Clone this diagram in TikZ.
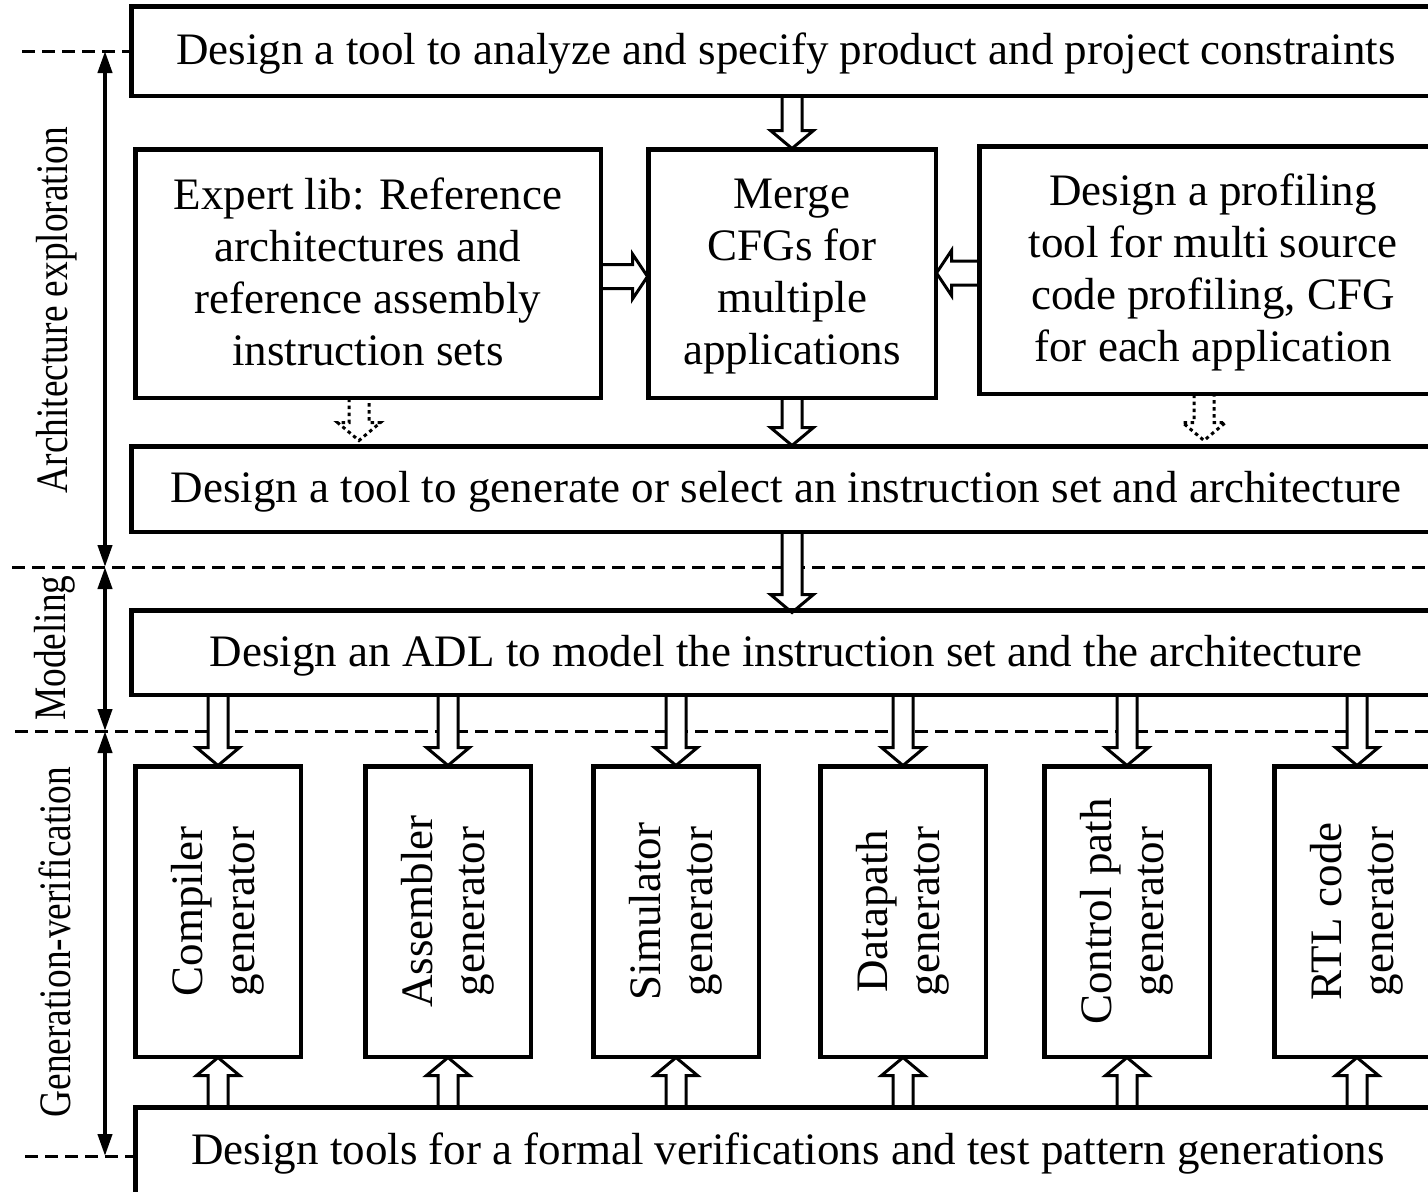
\documentclass[tikz,border=0pt]{standalone}
\usepackage{fontspec}
\setmainfont{Liberation Serif}
\usetikzlibrary{arrows.meta,calc}

\tikzset{
  txt/.style={font=\fontsize{45}{52}\selectfont},
  box/.style={draw, line width=3pt, inner sep=0pt, align=center, text depth=4pt, txt},
  hollow/.style={draw, fill=white, line width=3pt, line join=miter},
  hollowdotted/.style={draw, fill=white, line width=3pt, dash pattern=on 3.5pt off 3.5pt},
  sep/.style={line width=3pt, dash pattern=on 13pt off 7pt},
  span/.style={line width=4pt, {Triangle[length=22pt,width=14pt]}-{Triangle[length=22pt,width=14pt]}},
  phase/.style={rotate=90, inner sep=0pt, txt},
  genlabel/.style={rotate=90, align=center, inner sep=0pt, txt},
}

% hollow block arrow, vertical: from #2 to #3 (x taken from #2)
\newcommand\blockv[3][hollow]{%
  \path[#1] let \p1=#2, \p2=#3, \n1={sign(\y2-\y1)} in
    ({\x1-10pt},\y1) -- ({\x1-10pt},{\y2-(\n1)*18pt}) -- ({\x1-21.5pt},{\y2-(\n1)*18pt})
    -- (\x1,\y2) -- ({\x1+21.5pt},{\y2-(\n1)*18pt}) -- ({\x1+10pt},{\y2-(\n1)*18pt})
    -- ({\x1+10pt},\y1);
}
% hollow block arrow, horizontal: from #2 to #3 (y taken from #2)
\newcommand\blockh[3][hollow]{%
  \path[#1] let \p1=#2, \p2=#3, \n1={sign(\x2-\x1)} in
    (\x1,{\y1+12pt}) -- ({\x2-(\n1)*15pt},{\y1+12pt}) -- ({\x2-(\n1)*15pt},{\y1+22.5pt})
    -- (\x2,\y1) -- ({\x2-(\n1)*15pt},{\y1-22.5pt}) -- ({\x2-(\n1)*15pt},{\y1-12pt})
    -- (\x1,{\y1-12pt});
}

\begin{document}
\begin{tikzpicture}[x=1pt,y=-1pt]
\useasboundingbox (0,0) rectangle (1428,1192);
\clip (0,0) rectangle (1428,1192);

% phase boundaries
\coordinate (b0) at (105,51);
\coordinate (b1) at (105,567);
\coordinate (b2) at (105,731);
\coordinate (b3) at (105,1156);

\draw[sep] (22,51) -- (132,51);
\draw[sep] (12,567) -- (1428,567);
\draw[sep] (15,731) -- (1428,731);
\draw[sep] (25,1156) -- (136,1156);

\draw[span] (b0) -- (b1);
\draw[span] (b1) -- (b2);
\draw[span] (b2) -- (b3);

\node[phase] (ph1) at (57,310) {\scalebox{0.83}[1]{Architecture exploration}};
\node[phase] (ph2) at (55,648) {\scalebox{0.83}[1]{Modeling}};
\node[phase] (ph3) at (55,942) {\scalebox{0.83}[1]{Generation-verification}};

% boxes (positions only; drawn after the arrows so their borders stay on top)
\path
  (786,51)     node[box, minimum width=1308, minimum height=88]  (top)
      {Design a tool to analyze and specify product and project constraints}
  (368,273.5)  node[box, minimum width=464, minimum height=247]  (expert)
      {Expert lib: Reference\\architectures and\\reference assembly\\instruction sets}
  (792,273.5)  node[box, minimum width=286, minimum height=247]  (merge)
      {Merge\\CFGs for\\multiple\\applications}
  (1213,270)   node[box, minimum width=466, minimum height=246]  (prof)
      {Design a profiling\\tool for multi source\\code profiling, CFG\\for each application}
  (786,489)    node[box, minimum width=1308, minimum height=84]  (gen)
      {Design a tool to generate or select an instruction set and architecture}
  (786,652.5)  node[box, minimum width=1308, minimum height=83]  (adl)
      {Design an ADL to model the instruction set and the architecture}
  (788,1151)   node[box, minimum width=1304, minimum height=86]  (ver)
      {Design tools for a formal verifications and test pattern generations};

\foreach \nm/\cx/\ta/\tb in {g1/218/Compiler/generator, g2/448/Assembler/generator,
    g3/676/Simulator/generator, g4/903/Datapath/generator,
    g5/1127/Control path/generator, g6/1357/RTL code/generator}
  \path (\cx,911.5) node[box, minimum width=164, minimum height=289,
        label={[genlabel]center:{\ta\\\tb}}] (\nm) {};

% block arrows
\blockv{(merge.north |- top.south)}{(merge.north)}
\blockh{([yshift=-3pt]expert.east)}{(merge.west)}
\blockh{([yshift=-3pt]prof.west)}{(merge.east)}
\blockv{(merge.south)}{(gen.north)}
\coordinate (dA) at ([xshift=-9pt]expert.south);
\coordinate (dB) at ([xshift=-9pt]prof.south);
\blockv[hollowdotted]{(dA)}{([yshift=5pt]gen.north)}
\blockv[hollowdotted]{(dB)}{([yshift=5pt]gen.north)}
\blockv{(merge.south |- gen.south)}{([yshift=-3pt]merge.south |- adl.north)}
\foreach \nm in {g1,g2,g3,g4,g5,g6} {
  \blockv{(\nm.north |- adl.south)}{(\nm.north)}
  \blockv{(\nm.south |- ver.north)}{(\nm.south)}
}

% redraw box borders over the arrow ends
\foreach \nm in {top,expert,merge,prof,gen,adl,ver,g1,g2,g3,g4,g5,g6}
  \draw[line width=3pt] (\nm.north west) rectangle (\nm.south east);
\end{tikzpicture}
\end{document}
